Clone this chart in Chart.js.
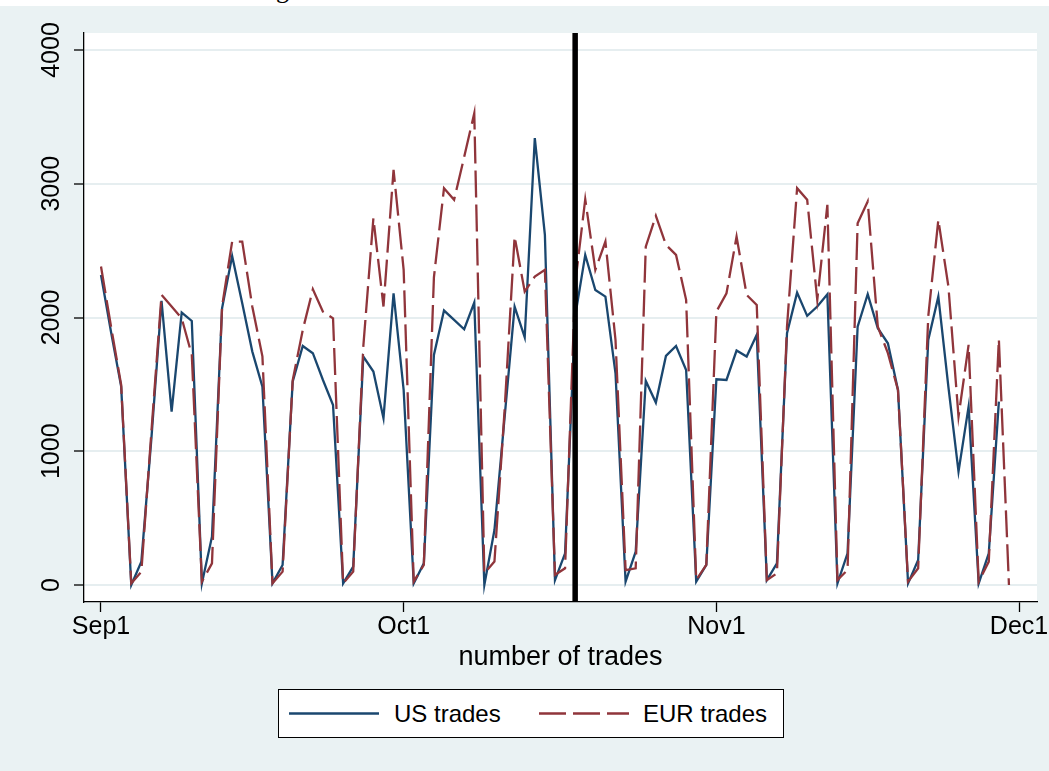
<!DOCTYPE html>
<html>
<head>
<meta charset="utf-8">
<script src="https://cdn.jsdelivr.net/npm/chart.js@4/dist/chart.umd.min.js"></script>
<style>
html,body{margin:0;padding:0;background:#fff;}
body{width:1049px;height:771px;position:relative;overflow:hidden;font-family:"Liberation Sans",Arial,sans-serif;}
#cap{position:absolute;left:0;top:0;width:1049px;height:6px;overflow:hidden;}
#cap span{position:absolute;left:276px;top:-23px;font:26px/26px "Liberation Serif",serif;color:#000;}
#wrap{position:absolute;left:0;top:6px;width:1049px;height:765px;background:#EAF2F3;}
#c{display:block;}
#legend{position:absolute;left:278px;top:683px;width:504px;height:47px;border:1.3px solid #000;background:#fff;}
#legend svg{display:block;}
#legend text{font-family:"Liberation Sans",Arial,sans-serif;font-size:24px;fill:#000;}
</style>
</head>
<body>
<div id="cap"><span>g</span></div>
<div id="wrap">
  <canvas id="c" width="1049" height="765"></canvas>
  <div id="legend">
    <svg width="504" height="47">
      <line x1="10" y1="23.5" x2="100" y2="23.5" stroke="#1a476f" stroke-width="2.6"/>
      <text x="115" y="32">US trades</text>
      <line x1="260" y1="23.5" x2="350" y2="23.5" stroke="#90353b" stroke-width="2.6" stroke-dasharray="27 7"/>
      <text x="364" y="32">EUR trades</text>
    </svg>
  </div>
</div>
<script>
// ---- data (day offsets from Sep 1) ----
const days = [0,1,2,3,4,5,6,7,8,9,10,11,12,13,14,15,16,17,18,19,20,21,22,23,24,25,26,27,28,29,30,
  31,32,33,34,35,36,37,38,39,40,41,42,43,44,45,46,47,48,49,50,51,52,53,54,55,56,57,58,59,60,
  61,62,63,64,65,66,67,68,69,70,71,72,73,74,75,76,77,78,79,80,81,82,83,84,85,86,87,88,89,90];

const usTrades = [2318,1890,1483,0,175,1100,2124,1296,2037,1974,
  12,361,2069,2460,2107,1745,1483,12,150,1521,
  1787,1733,1533,1346,12,137,1708,1596,1247,2181,
  1458,12,162,1720,2052,1982,1912,2112,0,411,
  1247,2082,1852,3341,2618,37,237,2007,2468,2206,
  2156,1583,25,249,1526,1364,1713,1787,1608,25,
  150,1538,1533,1753,1708,1870,37,162,1882,2186,
  2012,2082,2174,12,237,1932,2174,1920,1807,1458,
  12,187,1832,2156,1480,848,1334,12,237,1371];

const eurTrades = [2381,1930,1496,12,100,1150,2169,2082,1994,1720,
  25,162,2082,2568,2568,2080,1710,12,100,1530,
  1907,2211,2044,1994,12,100,1782,2742,2082,3104,
  2356,25,150,2300,2967,2880,3200,3527,87,175,
  1300,2605,2194,2306,2356,75,125,2250,2884,2356,
  2568,1832,112,125,2530,2760,2543,2468,2132,37,
  150,2044,2181,2605,2169,2094,37,87,1932,2967,
  2880,2132,2843,37,112,2705,2867,1932,1733,1458,
  25,125,2007,2730,2231,1259,1795,25,175,1837,0];

const xTickDays = [0, 30, 61, 91];
const xTickLabels = ['Sep1', 'Oct1', 'Nov1', 'Dec1'];
const yTickValues = [0, 1000, 2000, 3000, 4000];
const eventDay = 47;

const toPoints = vals => vals.map((v, i) => ({x: days[i], y: v}));

const bgPlugin = {
  id: 'bg',
  beforeDraw(chart) {
    const {ctx, chartArea: a} = chart;
    ctx.save();
    ctx.fillStyle = '#EAF2F3';
    ctx.fillRect(0, 0, chart.width, chart.height);
    ctx.fillStyle = '#ffffff';
    ctx.fillRect(a.left, a.top, a.right - a.left, a.bottom - a.top);
    ctx.restore();
  }
};

const eventLinePlugin = {
  id: 'eventLine',
  afterDatasetsDraw(chart) {
    const {ctx, chartArea: a, scales} = chart;
    const x = scales.x.getPixelForValue(eventDay);
    ctx.save();
    ctx.strokeStyle = '#000';
    ctx.lineWidth = 5.5;
    ctx.beginPath();
    ctx.moveTo(x, a.top);
    ctx.lineTo(x, a.bottom);
    ctx.stroke();
    ctx.restore();
  }
};

const FONT = 'Liberation Sans';

new Chart(document.getElementById('c').getContext('2d'), {
  type: 'line',
  data: {
    datasets: [
      {label: 'EUR trades', data: toPoints(eurTrades), borderColor: '#90353b', borderWidth: 2.3,
       borderDash: [27, 7], pointRadius: 0, tension: 0, fill: false, order: 1},
      {label: 'US trades', data: toPoints(usTrades), borderColor: '#1a476f', borderWidth: 2.3,
       pointRadius: 0, tension: 0, fill: false, order: 2}
    ]
  },
  options: {
    responsive: false,
    animation: false,
    devicePixelRatio: 1,
    layout: {padding: {top: 27, right: 12, left: 0, bottom: 0}},
    plugins: {legend: {display: false}, tooltip: {enabled: false}},
    scales: {
      x: {
        type: 'linear', min: -1.685, max: 92.78,
        afterBuildTicks: s => { s.ticks = xTickDays.map(v => ({value: v})); },
        afterFit: s => { s.height = 169; },
        ticks: {autoSkip: false, maxRotation: 0, minRotation: 0, padding: 0, color: '#000',
                font: {family: FONT, size: 25},
                callback: (v, i) => xTickLabels[i]},
        grid: {drawOnChartArea: false, drawTicks: true, tickLength: 10, tickColor: '#000', tickWidth: 1.3},
        border: {display: true, color: '#000', width: 1.3},
        title: {display: true, text: 'number of trades', color: '#000',
                font: {family: FONT, size: 27}, padding: {top: 0, bottom: 97}}
      },
      y: {
        type: 'linear', min: -127.1, max: 4127.1,
        afterBuildTicks: s => { s.ticks = yTickValues.map(v => ({value: v})); },
        afterFit: s => { s.width = 84; },
        ticks: {minRotation: 90, maxRotation: 90, crossAlign: 'center', padding: -6, color: '#000',
                font: {family: FONT, size: 25}, callback: v => String(v)},
        grid: {color: '#E6EEF0', lineWidth: 2, tickColor: '#000', tickLength: 10, tickWidth: 1.3},
        border: {display: true, color: '#000', width: 1.3}
      }
    }
  },
  plugins: [bgPlugin, eventLinePlugin]
});
</script>
</body>
</html>
